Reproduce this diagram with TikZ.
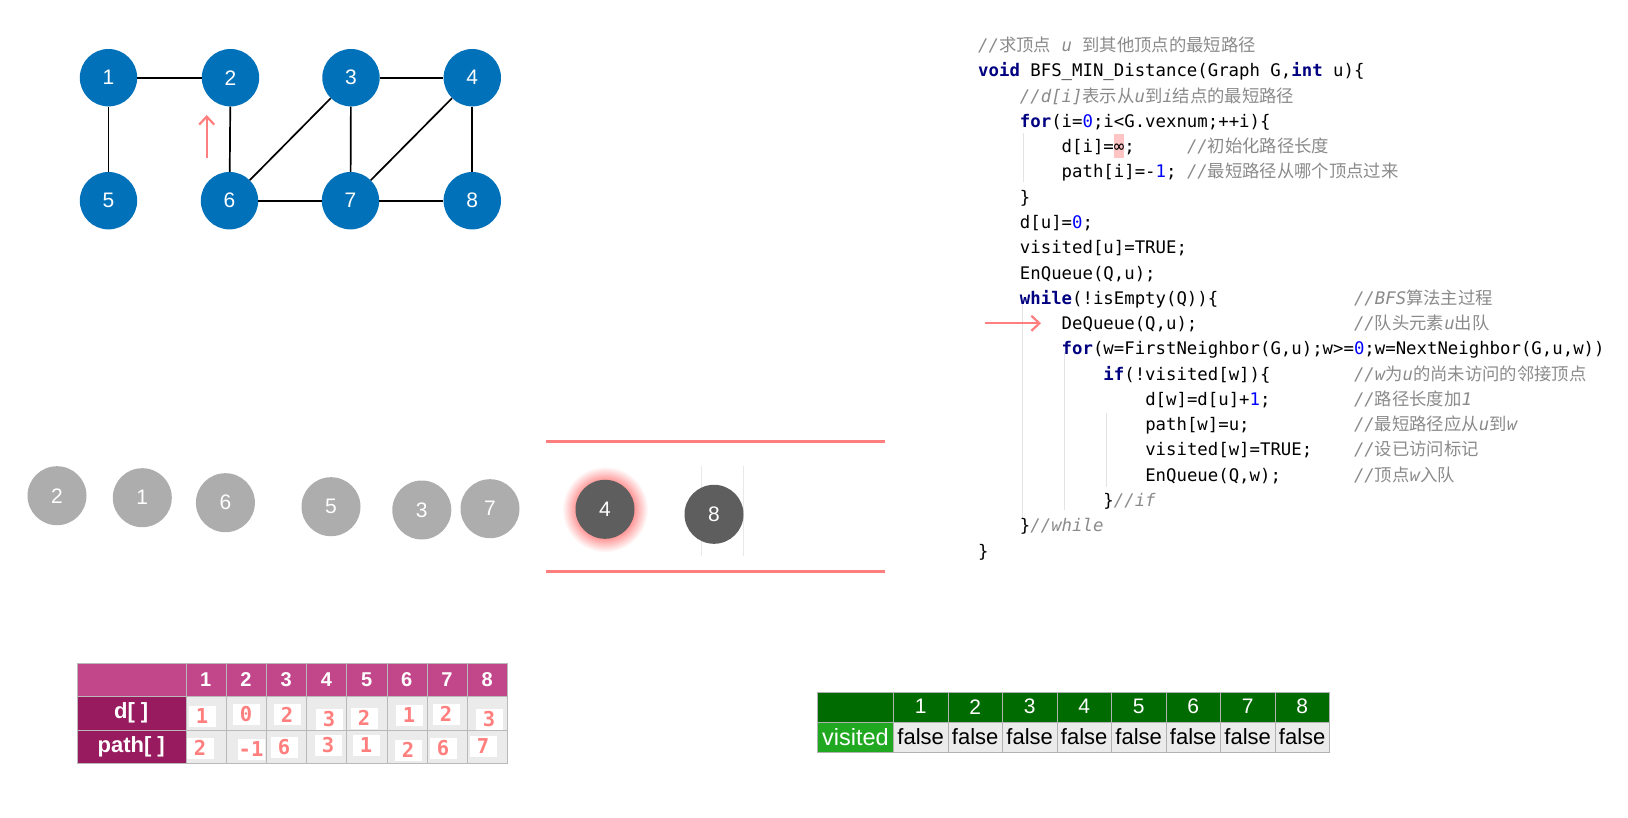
\documentclass[tikz,border=0pt]{standalone}
\usepackage{fontspec}
\setmainfont{Liberation Sans}
\setmonofont{DejaVu Sans Mono}
\newfontfamily\cjk[Scale=1.0]{Noto Sans CJK SC}
\usetikzlibrary{arrows.meta}
\definecolor{vblue}{HTML}{0171B9}
\definecolor{qgray}{HTML}{ADADAD}
\definecolor{qdark}{HTML}{5E5E5E}
\definecolor{salmon}{HTML}{FF7F7F}
\definecolor{hpink}{HTML}{C1478A}
\definecolor{rmag}{HTML}{981A5F}
\definecolor{cellg}{HTML}{EBEBEB}
\definecolor{gdark}{HTML}{006B00}
\definecolor{glight}{HTML}{20A820}
\definecolor{kwblue}{HTML}{000080}
\definecolor{numblue}{HTML}{0000FF}
\definecolor{cmtgray}{HTML}{8A8A8A}
\pgfdeclareradialshading{glow}{\pgfpoint{0bp}{0bp}}{color(0bp)=(salmon); color(17bp)=(salmon!80); color(25bp)=(white); color(50bp)=(white)}
\newcommand\codefont{\fontsize{17.34}{20}\selectfont\ttfamily}
\newcommand\kw[1]{{\color{kwblue}\bfseries #1}}
\newcommand\num[1]{{\color{numblue}#1}}
\newcommand\zh[1]{{\cjk\upshape #1}}
\newcommand\cmt[1]{{\color{cmtgray}\itshape #1}}

\begin{document}
\begin{tikzpicture}[x=1pt,y=-1pt,
  every node/.style={inner sep=0pt},
  vertex/.style={circle,fill=vblue,minimum size=57.4,text=white,font=\fontsize{21}{21}\selectfont},
  link/.style={black,line width=1.7},
  qnode/.style={circle,fill=qgray,minimum size=59,text=white,font=\fontsize{21}{21}\selectfont},
  code/.style={anchor=base west,font=\codefont},
  guide/.style={gray!22,line width=0.8},
  hdr/.style={rectangle,fill=hpink,draw=gray!55,minimum width=40.2,minimum height=33.5,text=white,font=\fontsize{20}{20}\selectfont\bfseries},
  rowlab/.style={rectangle,fill=rmag,draw=gray!55,minimum width=109,minimum height=33.5,text=white,font=\fontsize{22}{22}\selectfont\bfseries},
  cell/.style={rectangle,fill=cellg,draw=gray!55,minimum width=40.2,minimum height=33.5},
  valbox/.style={rectangle,fill=white,minimum width=27,minimum height=21,text=salmon,font=\fontsize{20.5}{20.5}\selectfont\ttfamily\bfseries},
  vhdr/.style={rectangle,fill=gdark,draw=gray!60,minimum width=54.5,minimum height=30,text=white,font=\fontsize{21}{21}\selectfont},
  vcell/.style={rectangle,fill=cellg,draw=gray!60,minimum width=54.5,minimum height=30,font=\fontsize{22}{22}\selectfont},
  redarrow/.style={salmon,line width=2.2,-{Straight Barb[length=8,width=15]}}]
\useasboundingbox (0,0) rectangle (1628,818);

\node[vertex] (v1) at (108.5,77.7) {1};
\node[vertex] (v2) at (230.5,77.7) {2};
\node[vertex] (v3) at (351,77.7) {3};
\node[vertex] (v4) at (472.3,77.7) {4};
\node[vertex] (v5) at (108.5,200.7) {5};
\node[vertex] (v6) at (229.5,200.7) {6};
\node[vertex] (v7) at (350.5,200.7) {7};
\node[vertex] (v8) at (472.3,200.7) {8};
\draw[link] (v1) -- (v2);
\draw[link] (v1) -- (v5);
\draw[link] (v2) -- (v6);
\draw[link] (v3) -- (v4);
\draw[link] (v3) -- (v6);
\draw[link] (v3) -- (v7);
\draw[link] (v4) -- (v7);
\draw[link] (v4) -- (v8);
\draw[link] (v6) -- (v7);
\draw[link] (v7) -- (v8);
\coordinate (up0) at (206.7,158);
\coordinate (up1) at (206.7,115);
\draw[redarrow] (up0) -- (up1);

\draw[gray!18,line width=0.6] (701,466) -- (701,556);
\draw[gray!18,line width=0.6] (743,466) -- (743,556);
\node[qnode] (q2) at (57,495.7) {2};
\node[qnode] (q1) at (142.3,497.7) {1};
\node[qnode] (q6) at (225.4,502.7) {6};
\node[qnode] (q5) at (331,506.7) {5};
\node[qnode] (q3) at (421.8,510) {3};
\node[qnode] (q7) at (490,508.7) {7};
\shade[shading=glow] (605,509.3) circle (43);
\node[qnode,fill=qdark] (q4) at (605,509.3) {4};
\node[qnode,fill=qdark] (q8) at (714,514.3) {8};
\draw[salmon,line width=2.7] (546,441.7) -- (885,441.7);
\draw[salmon,line width=2.7] (546,571.7) -- (885,571.7);

\def\cx{978} \def\cw{10.44} \def\cy{51.5} \def\lh{25.28}
\fill[salmon!45] (1113.5,134) rectangle (1124.2,158);
\draw[guide] (1023,133) -- (1023,182);
\draw[guide] (1022,300) -- (1022,518);
\draw[guide] (1064,352) -- (1064,510);
\draw[guide] (1106,413) -- (1106,487);
\node[code] (c1) at ({\cx},{\cy}) {\cmt{//\zh{求顶点} u \zh{到其他顶点的最短路径}}};
\node[code] (c2) at ({\cx},{\cy+\lh}) {\kw{void} BFS\_MIN\_Distance(Graph G,\kw{int} u)\{};
\node[code] (c3) at ({\cx+4*\cw},{\cy+2*\lh}) {\cmt{//d[i]\zh{表示从}u\zh{到}i\zh{结点的最短路径}}};
\node[code] (c4) at ({\cx+4*\cw},{\cy+3*\lh}) {\kw{for}(i=\num{0};i<G.vexnum;++i)\{};
\node[code] (c5) at ({\cx+8*\cw},{\cy+4*\lh}) {d[i]=∞;};
\node[code] (m5) at ({\cx+20*\cw},{\cy+4*\lh}) {\cmt{//\zh{初始化路径长度}}};
\node[code] (c6) at ({\cx+8*\cw},{\cy+5*\lh}) {path[i]=-\num{1};};
\node[code] (m6) at ({\cx+20*\cw},{\cy+5*\lh}) {\cmt{//\zh{最短路径从哪个顶点过来}}};
\node[code] (c7) at ({\cx+4*\cw},{\cy+6*\lh}) {\}};
\node[code] (c8) at ({\cx+4*\cw},{\cy+7*\lh}) {d[u]=\num{0};};
\node[code] (c9) at ({\cx+4*\cw},{\cy+8*\lh}) {visited[u]=TRUE;};
\node[code] (c10) at ({\cx+4*\cw},{\cy+9*\lh}) {EnQueue(Q,u);};
\node[code] (c11) at ({\cx+4*\cw},{\cy+10*\lh}) {\kw{while}(!isEmpty(Q))\{};
\node[code] (m11) at ({\cx+36*\cw},{\cy+10*\lh}) {\cmt{//BFS\zh{算法主过程}}};
\node[code] (c12) at ({\cx+8*\cw},{\cy+11*\lh}) {DeQueue(Q,u);};
\node[code] (m12) at ({\cx+36*\cw},{\cy+11*\lh}) {\cmt{//\zh{队头元素}u\zh{出队}}};
\node[code] (c13) at ({\cx+8*\cw},{\cy+12*\lh}) {\kw{for}(w=FirstNeighbor(G,u);w>=\num{0};w=NextNeighbor(G,u,w))};
\node[code] (c14) at ({\cx+12*\cw},{\cy+13*\lh}) {\kw{if}(!visited[w])\{};
\node[code] (m14) at ({\cx+36*\cw},{\cy+13*\lh}) {\cmt{//w\zh{为}u\zh{的尚未访问的邻接顶点}}};
\node[code] (c15) at ({\cx+16*\cw},{\cy+14*\lh}) {d[w]=d[u]+\num{1};};
\node[code] (m15) at ({\cx+36*\cw},{\cy+14*\lh}) {\cmt{//\zh{路径长度加}1}};
\node[code] (c16) at ({\cx+16*\cw},{\cy+15*\lh}) {path[w]=u;};
\node[code] (m16) at ({\cx+36*\cw},{\cy+15*\lh}) {\cmt{//\zh{最短路径应从}u\zh{到}w}};
\node[code] (c17) at ({\cx+16*\cw},{\cy+16*\lh}) {visited[w]=TRUE;};
\node[code] (m17) at ({\cx+36*\cw},{\cy+16*\lh}) {\cmt{//\zh{设已访问标记}}};
\node[code] (c18) at ({\cx+16*\cw},{\cy+17*\lh}) {EnQueue(Q,w);};
\node[code] (m18) at ({\cx+36*\cw},{\cy+17*\lh}) {\cmt{//\zh{顶点}w\zh{入队}}};
\node[code] (c19) at ({\cx+12*\cw},{\cy+18*\lh}) {\}\cmt{//if}};
\node[code] (c20) at ({\cx+4*\cw},{\cy+19*\lh}) {\}\cmt{//while}};
\node[code] (c21) at ({\cx},{\cy+20*\lh}) {\}};
\coordinate (deq0) at (984.7,323.3);
\coordinate (deq1) at (1041,323.3);
\draw[redarrow] (deq0) -- (deq1);

\node[hdr,minimum width=109] (dh0) at (131.2,679.5) {};
\node[rowlab] (dl) at (131.2,713) {d[ ]};
\node[rowlab] (pl) at (131.2,746.5) {path[ ]};
\foreach \i in {1,...,8}{
  \node[hdr] (dh\i) at ({185.7+(\i-0.5)*40.2},679.5) {\i};
  \node[cell] (dd\i) at ({185.7+(\i-0.5)*40.2},713) {};
  \node[cell] (dp\i) at ({185.7+(\i-0.5)*40.2},746.5) {};
}
\foreach \n/\v/\x/\y in {1/1/202/716.5, 2/0/246/714.5, 3/2/287/714.5, 4/3/329/719, 5/2/364/718, 6/1/409/715.5, 7/2/446/714, 8/3/489/719}
  \node[valbox] (dv\n) at (\x,\y) {\v};
\foreach \n/\v/\x/\y in {1/2/200/748, 2/-1/251/749.5, 3/6/284/747, 4/3/328/745, 5/1/366/745.5, 6/2/408/750, 7/6/443/748, 8/7/483/746}
  \node[valbox] (pv\n) at (\x,\y) {\v};

\node[vhdr,minimum width=76] (vh0) at (855.4,706.7) {};
\node[vcell,minimum width=76,fill=glight,text=white,font=\fontsize{23.5}{23.5}\selectfont] (vl) at (855.4,736.7) {visited};
\foreach \i in {1,...,8}{
  \node[vhdr] (vh\i) at ({893.4+(\i-0.5)*54.5},706.7) {\i};
  \node[vcell] (vc\i) at ({893.4+(\i-0.5)*54.5},736.7) {false};
}
\end{tikzpicture}
\end{document}
